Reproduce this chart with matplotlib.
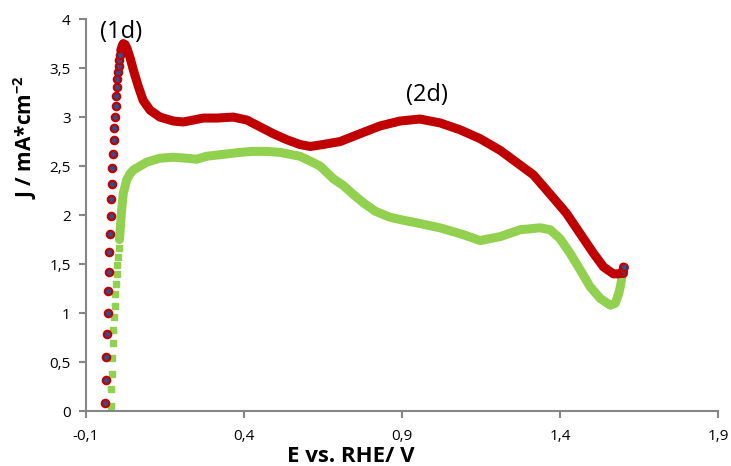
import matplotlib
matplotlib.use("Agg")
import matplotlib.pyplot as plt
from matplotlib.ticker import FuncFormatter, MultipleLocator

# ---- data ----
red_steep_x = [-0.0399, -0.0376, -0.0357, -0.0335, -0.0313, -0.0304, -0.0272, -0.0262,
               -0.0240, -0.0218, -0.0199, -0.0177, -0.0167, -0.0145, -0.0114, -0.0104,
               -0.0082, -0.0060, -0.0050, -0.0028, -0.0009, 0.0013, 0.0035, 0.0054, 0.0076]
red_steep_y = [0.08, 0.32, 0.55, 0.79, 1.00, 1.22, 1.42, 1.62, 1.81, 1.99, 2.16, 2.32,
               2.48, 2.62, 2.77, 2.89, 3.00, 3.11, 3.22, 3.31, 3.39, 3.46, 3.52, 3.58, 3.63]
red_dense_x = [0.010, 0.015, 0.018, 0.024, 0.030, 0.040, 0.050, 0.066, 0.081, 0.103, 0.134,
               0.176, 0.208, 0.240, 0.271, 0.314, 0.366, 0.409, 0.451, 0.493, 0.535,
               0.577, 0.610, 0.650, 0.704, 0.767, 0.831, 0.894, 0.957, 1.021, 1.084,
               1.147, 1.211, 1.274, 1.316, 1.367, 1.420, 1.464, 1.506, 1.538, 1.569,
               1.585, 1.599, 1.600, 1.601]
red_dense_y = [3.68, 3.73, 3.75, 3.74, 3.70, 3.60, 3.48, 3.31, 3.17, 3.07, 3.00,
               2.96, 2.95, 2.97, 2.99, 2.99, 3.00, 2.97, 2.90, 2.83, 2.77,
               2.72, 2.70, 2.72, 2.75, 2.83, 2.91, 2.96, 2.98, 2.94, 2.87,
               2.78, 2.66, 2.51, 2.41, 2.22, 2.02, 1.81, 1.61, 1.47, 1.40,
               1.40, 1.41, 1.44, 1.47]

green_steep_x = [-0.0218, -0.0209, -0.0186, -0.0167, -0.0145, -0.0136, -0.0114,
                 -0.0091, -0.0072, -0.0050, -0.0028, -0.0009, 0.0013, 0.0035]
green_steep_y = [0.05, 0.22, 0.38, 0.54, 0.69, 0.83, 0.96, 1.07, 1.19, 1.30, 1.40,
                 1.49, 1.57, 1.66]
green_dense_x = [0.006, 0.009, 0.012, 0.018, 0.029, 0.039, 0.050, 0.066, 0.092, 0.134,
                 0.176, 0.219, 0.250, 0.282, 0.335, 0.388, 0.429, 0.470, 0.514, 0.577, 0.610,
                 0.641, 0.683, 0.715, 0.746, 0.780, 0.815, 0.860, 0.900, 0.947, 1.020, 1.094,
                 1.147, 1.211, 1.274, 1.337, 1.369, 1.400, 1.432, 1.464, 1.495, 1.527,
                 1.559, 1.575, 1.586, 1.593, 1.597]
green_dense_y = [1.75, 1.88, 2.02, 2.22, 2.36, 2.42, 2.46, 2.49, 2.54, 2.58,
                 2.59, 2.58, 2.57, 2.60, 2.62, 2.64, 2.65, 2.65, 2.64, 2.60, 2.55,
                 2.50, 2.37, 2.30, 2.21, 2.12, 2.04, 1.98, 1.95, 1.92, 1.87, 1.80,
                 1.74, 1.78, 1.85, 1.87, 1.85, 1.76, 1.61, 1.44, 1.27, 1.15,
                 1.08, 1.10, 1.20, 1.30, 1.40]

x_ticks = [-0.1, 0.4, 0.9, 1.4, 1.9]
labels = ["(1d)", "(2d)"]
label_pos = [(0.012, 3.87), (0.978, 3.23)]

RED = "#C00000"
NAVY = "#2F4F8F"
GREEN = "#92D050"
AXC = "#868686"

plt.rcParams['font.family'] = ['Open Sans', 'DejaVu Sans']
plt.rcParams['mathtext.fontset'] = 'custom'
plt.rcParams['mathtext.rm'] = 'Open Sans'
plt.rcParams['mathtext.bf'] = 'Open Sans:bold'

fig = plt.figure(figsize=(7.31, 4.66), dpi=100)
ax = fig.add_axes([0.1176, 0.118, 0.8646, 0.841])

# green series
ax.plot(green_dense_x, green_dense_y, color=GREEN, lw=6.5, solid_capstyle='round',
        solid_joinstyle='round', zorder=2)
ax.plot(green_steep_x, green_steep_y, ls='none', marker='s', ms=4.3,
        mfc=GREEN, mec=GREEN, zorder=2)

# red series
ax.plot(red_dense_x, red_dense_y, color=RED, lw=6.5, solid_capstyle='round',
        solid_joinstyle='round', zorder=3)
ax.plot(red_steep_x, red_steep_y, ls='none', marker='o', ms=5.3, mfc=NAVY,
        mec=RED, mew=1.6, zorder=4)
ax.plot(red_dense_x[-3:], red_dense_y[-3:], ls='none', marker='o', ms=5.0, mfc=NAVY,
        mec=RED, mew=1.4, zorder=4)

for t, (px, py) in zip(labels, label_pos):
    ax.text(px, py, t, fontsize=17, ha='center', va='center', color='black')

ax.set_xlim(-0.1, 1.9)
ax.set_ylim(0, 4)
ax.set_xticks(x_ticks)
ax.yaxis.set_major_locator(MultipleLocator(0.5))

def fmt(v, pos):
    s = ('%.1f' % v)
    if s.endswith('.0'):
        s = s[:-2]
    if s == '-0':
        s = '0'
    return s.replace('.', ',')

ax.xaxis.set_major_formatter(FuncFormatter(fmt))
ax.yaxis.set_major_formatter(FuncFormatter(fmt))

for sp in ['top', 'right']:
    ax.spines[sp].set_visible(False)
for sp in ['left', 'bottom']:
    ax.spines[sp].set_color(AXC)
    ax.spines[sp].set_linewidth(1.5)
ax.tick_params(axis='both', direction='out', length=5, width=1.5, color=AXC,
               labelsize=11, labelcolor='black')
ax.tick_params(axis='x', pad=8)
ax.tick_params(axis='y', pad=6)

# axis titles (placed where the reference has them)
fig.text(351 / 731, 1 - 462 / 466, 'E vs. RHE/ V', fontsize=16, fontweight='bold',
         ha='center', va='baseline')
fig.text(25 / 731, 1 - 137 / 466, r'J / mA*cm$^{\mathbf{-2}}$', fontsize=15,
         fontweight='bold', rotation=90, ha='center', va='center')

fig.savefig('out.png', dpi=100)
